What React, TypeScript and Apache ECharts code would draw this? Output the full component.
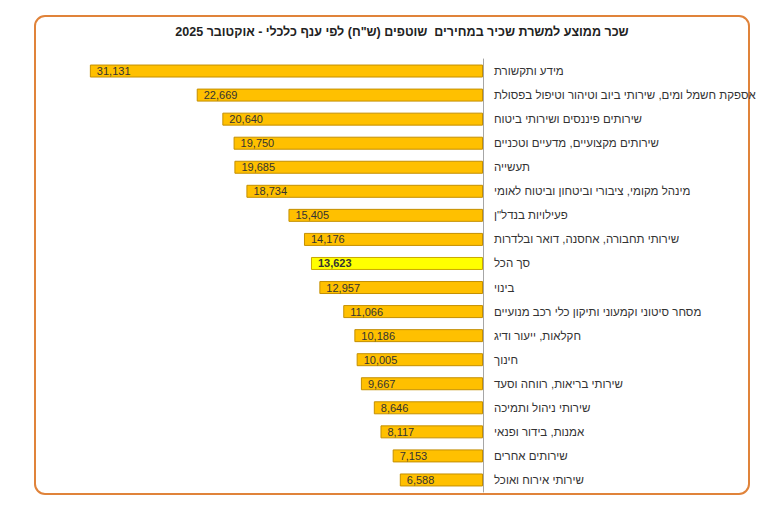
import React, { useEffect, useRef } from "react";
import * as echarts from "echarts";

// Average wage per employee post by economic branch, October 2025 (NIS, current prices)
const categories: string[] = [
  "מידע ותקשורת",
  "אספקת חשמל ומים, שירותי ביוב וטיהור וטיפול בפסולת",
  "שירותים פיננסים ושירותי ביטוח",
  "שירותים מקצועיים, מדעיים וטכניים",
  "תעשייה",
  "מינהל מקומי, ציבורי וביטחון וביטוח לאומי",
  'פעילויות בנדל"ן',
  "שירותי תחבורה, אחסנה, דואר ובלדרות",
  "סך הכל",
  "בינוי",
  "מסחר סיטוני וקמעוני ותיקון כלי רכב מנועיים",
  "חקלאות, ייעור ודיג",
  "חינוך",
  "שירותי בריאות, רווחה וסעד",
  "שירותי ניהול ותמיכה",
  "אמנות, בידור ופנאי",
  "שירותים אחרים",
  "שירותי אירוח ואוכל",
];

const wages: number[] = [
  31131, 22669, 20640, 19750, 19685, 18734, 15405, 14176, 13623, 12957, 11066,
  10186, 10005, 9667, 8646, 8117, 7153, 6588,
];

const totalLabel = "סך הכל";
const chartTitle = 'שכר ממוצע למשרת שכיר במחירים  שוטפים (ש"ח) לפי ענף כלכלי - אוקטובר 2025';

const FONT = "'Liberation Sans', Arial, 'DejaVu Sans', sans-serif";

export default function App() {
  const ref = useRef<HTMLDivElement>(null);

  useEffect(() => {
    if (!ref.current) return;
    const chart = echarts.init(ref.current, undefined, { renderer: "svg" });

    const barData = wages.map((v, i) => {
      const isTotal = categories[i] === totalLabel;
      return {
        value: v,
        itemStyle: isTotal
          ? { color: "#FFFF00", borderColor: "#C9A800", borderWidth: 1 }
          : { color: "#FFC000", borderColor: "#C48F00", borderWidth: 1 },
        label: isTotal ? { fontWeight: "bold" as const } : undefined,
      };
    });

    chart.setOption({
      animation: false,
      textStyle: { fontFamily: FONT },
      title: {
        text: chartTitle,
        left: 397,
        top: 20,
        textAlign: "center",
        textStyle: {
          fontFamily: FONT,
          fontSize: 12.5,
          fontWeight: "bold",
          color: "#222",
        },
      },
      graphic: [
        {
          type: "rect",
          shape: { x: 35, y: 16, width: 714, height: 478, r: 10 },
          style: { fill: "none", stroke: "#E0833A", lineWidth: 2 },
          silent: true,
        },
      ],
      grid: { left: 41, right: 285, top: 59, height: 433 },
      xAxis: {
        type: "value",
        inverse: true,
        min: 0,
        max: 35000,
        show: false,
      },
      yAxis: {
        type: "category",
        data: categories,
        inverse: true,
        position: "right",
        axisLine: { show: true, lineStyle: { color: "#A6A6A6", width: 1 } },
        axisTick: { show: false },
        axisLabel: {
          margin: 11,
          align: "left",
          fontFamily: FONT,
          fontSize: 11.5,
          color: "#333",
        },
        splitLine: { show: false },
      },
      series: [
        {
          type: "bar",
          data: barData,
          barCategoryGap: "46%",
          label: {
            show: true,
            position: "insideLeft",
            distance: 7,
            fontFamily: FONT,
            fontSize: 11,
            color: "#333",
            formatter: (p: any) => Number(p.value).toLocaleString("en-US"),
          },
        },
      ],
    });

    return () => chart.dispose();
  }, []);

  return (
    <div
      ref={ref}
      style={{ position: "fixed", left: 0, top: 0, width: 768, height: 512, background: "#fff" }}
    />
  );
}
